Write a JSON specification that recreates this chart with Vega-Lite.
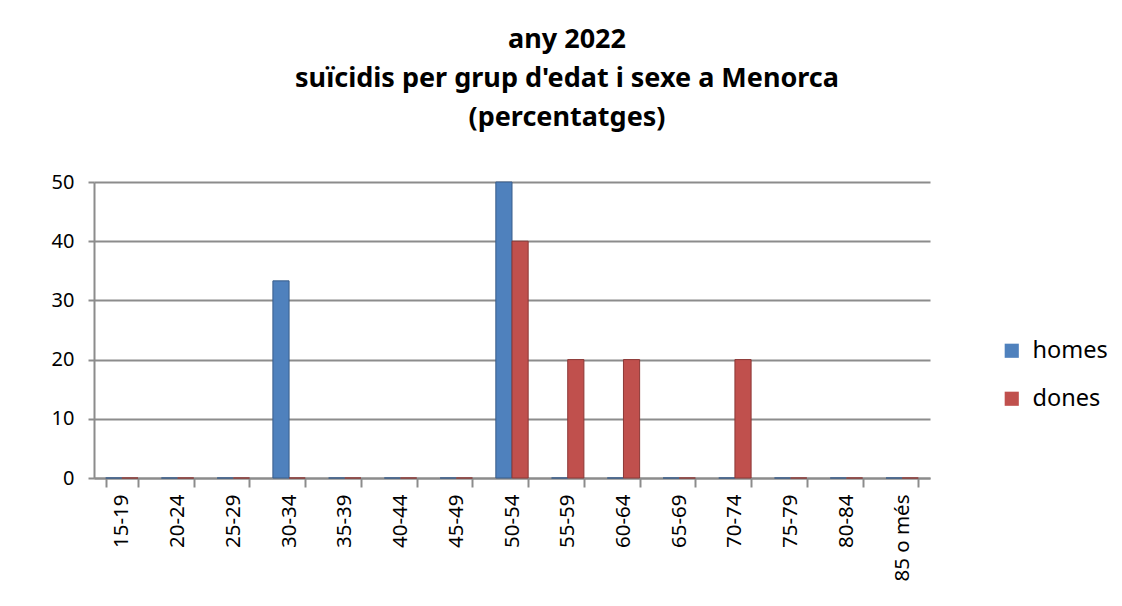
{
  "$schema": "https://vega.github.io/schema/vega-lite/v6.json",
  "width": 836,
  "height": 296,
  "autosize": {"type": "none"},
  "padding": {"left": 94, "top": 182, "right": 192, "bottom": 128},
  "background": "white",
  "config": {
    "font": "Noto Sans",
    "view": {"stroke": null}
  },
  "title": {
    "text": ["any 2022", "suïcidis per grup d'edat i sexe a Menorca", "(percentatges)"],
    "fontSize": 27,
    "fontWeight": "bold",
    "font": "Noto Sans",
    "color": "#000000",
    "lineHeight": 39,
    "anchor": "middle",
    "dx": 55,
    "offset": 40
  },
  "data": {
    "values": [
      {"edat": "15-19", "sexe": "homes", "pct": 0},
      {"edat": "15-19", "sexe": "dones", "pct": 0},
      {"edat": "20-24", "sexe": "homes", "pct": 0},
      {"edat": "20-24", "sexe": "dones", "pct": 0},
      {"edat": "25-29", "sexe": "homes", "pct": 0},
      {"edat": "25-29", "sexe": "dones", "pct": 0},
      {"edat": "30-34", "sexe": "homes", "pct": 33.3},
      {"edat": "30-34", "sexe": "dones", "pct": 0},
      {"edat": "35-39", "sexe": "homes", "pct": 0},
      {"edat": "35-39", "sexe": "dones", "pct": 0},
      {"edat": "40-44", "sexe": "homes", "pct": 0},
      {"edat": "40-44", "sexe": "dones", "pct": 0},
      {"edat": "45-49", "sexe": "homes", "pct": 0},
      {"edat": "45-49", "sexe": "dones", "pct": 0},
      {"edat": "50-54", "sexe": "homes", "pct": 50},
      {"edat": "50-54", "sexe": "dones", "pct": 40},
      {"edat": "55-59", "sexe": "homes", "pct": 0},
      {"edat": "55-59", "sexe": "dones", "pct": 20},
      {"edat": "60-64", "sexe": "homes", "pct": 0},
      {"edat": "60-64", "sexe": "dones", "pct": 20},
      {"edat": "65-69", "sexe": "homes", "pct": 0},
      {"edat": "65-69", "sexe": "dones", "pct": 0},
      {"edat": "70-74", "sexe": "homes", "pct": 0},
      {"edat": "70-74", "sexe": "dones", "pct": 20},
      {"edat": "75-79", "sexe": "homes", "pct": 0},
      {"edat": "75-79", "sexe": "dones", "pct": 0},
      {"edat": "80-84", "sexe": "homes", "pct": 0},
      {"edat": "80-84", "sexe": "dones", "pct": 0},
      {"edat": "85 o més", "sexe": "homes", "pct": 0},
      {"edat": "85 o més", "sexe": "dones", "pct": 0}
    ]
  },
  "mark": {"type": "bar", "strokeWidth": 1},
  "encoding": {
    "x": {
      "field": "edat",
      "type": "nominal",
      "sort": null,
      "title": null,
      "scale": {"paddingInner": 0.42, "paddingOuter": 0.21},
      "axis": {
        "labelAngle": -90,
        "labelAlign": "right",
        "labelBaseline": "middle",
        "labelFontSize": 20.5,
        "labelColor": "#000000",
        "labelPadding": 7,
        "tickBand": "extent",
        "tickSize": 9,
        "tickColor": "#8c8c8c",
        "tickWidth": 2,
        "domainColor": "#8c8c8c",
        "domainWidth": 2,
        "grid": false
      }
    },
    "xOffset": {"field": "sexe", "type": "nominal", "sort": ["homes", "dones"]},
    "y": {
      "field": "pct",
      "type": "quantitative",
      "title": null,
      "scale": {"domain": [0, 50], "nice": false},
      "axis": {
        "values": [0, 10, 20, 30, 40, 50],
        "labelFontSize": 20,
        "labelColor": "#000000",
        "labelPadding": 14,
        "tickColor": "#8c8c8c",
        "tickSize": 6,
        "tickWidth": 2,
        "domainColor": "#8c8c8c",
        "domainWidth": 2,
        "gridColor": "#8c8c8c",
        "gridWidth": 2
      }
    },
    "color": {
      "field": "sexe",
      "type": "nominal",
      "sort": ["homes", "dones"],
      "scale": {"domain": ["homes", "dones"], "range": ["#4F81BD", "#C0504D"]},
      "legend": {
        "title": null,
        "orient": "none",
        "legendX": 906,
        "legendY": 157,
        "symbolType": "square",
        "symbolSize": 200,
        "symbolStrokeWidth": 0,
        "labelFontSize": 23.5,
        "labelColor": "#000000",
        "rowPadding": 23,
        "labelOffset": 9
      }
    },
    "stroke": {
      "field": "sexe",
      "type": "nominal",
      "sort": ["homes", "dones"],
      "scale": {"domain": ["homes", "dones"], "range": ["#385d8a", "#8c3836"]},
      "legend": null
    }
  }
}
